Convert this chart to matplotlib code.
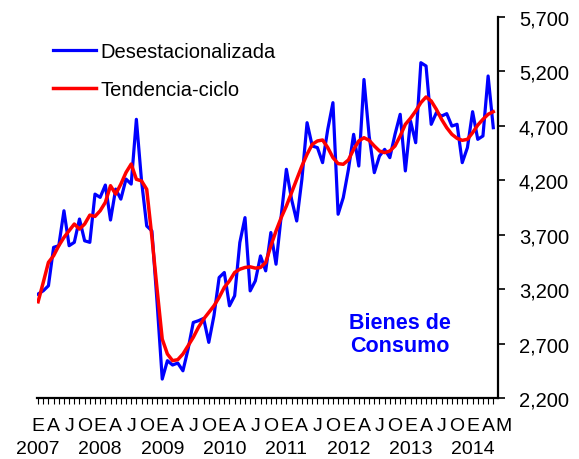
import matplotlib
matplotlib.use("Agg")
import matplotlib.pyplot as plt
import matplotlib.transforms as mtransforms
from matplotlib.ticker import FuncFormatter

plt.rcParams['font.family'] = ['Liberation Sans', 'DejaVu Sans']

# Data: monthly, Jan 2007 - May 2014
desestacionalizada = [
    3155, 3185, 3231, 3584, 3599, 3920, 3599, 3630, 3844, 3644, 3630, 4073,
    4043, 4156, 3835, 4119, 4027, 4211, 4165, 4760, 4194, 3780, 3735, 3080,
    2374, 2543, 2503, 2521, 2450, 2650, 2894, 2910, 2931, 2711, 2956, 3307,
    3353, 3047, 3139, 3628, 3857, 3184, 3276, 3505, 3368, 3720, 3429, 3872,
    4301, 4026, 3826, 4209, 4729, 4515, 4500, 4362, 4668, 4913, 3888, 4041,
    4301, 4622, 4331, 5126, 4607, 4270, 4423, 4484, 4408, 4622, 4806, 4286,
    4744, 4545, 5280, 5250, 4714, 4821, 4790, 4812, 4698, 4714, 4362, 4500,
    4830, 4576, 4607, 5158, 4683,
]
tendencia_ciclo = [
    3084, 3262, 3446, 3507, 3599, 3675, 3737, 3798, 3752, 3798, 3880, 3868,
    3920, 3997, 4150, 4073, 4165, 4272, 4349, 4209, 4194, 4117, 3680, 3200,
    2741, 2604, 2543, 2552, 2604, 2680, 2757, 2849, 2925, 2986, 3047, 3124,
    3216, 3276, 3353, 3383, 3399, 3405, 3393, 3399, 3445, 3597, 3735, 3857,
    3964, 4086, 4209, 4331, 4439, 4530, 4561, 4570, 4500, 4408, 4353, 4347,
    4387, 4484, 4561, 4591, 4567, 4515, 4469, 4454, 4469, 4515, 4607, 4714,
    4770, 4836, 4913, 4965, 4928, 4851, 4760, 4683, 4622, 4585, 4567, 4576,
    4637, 4707, 4760, 4806, 4830,
]
month_letters = ['E', 'A', 'J', 'O'] * 7 + ['E', 'A', 'M']
years = ['2007', '2008', '2009', '2010', '2011', '2012', '2013', '2014']
y_ticks = [2200, 2700, 3200, 3700, 4200, 4700, 5200, 5700]

months = list(range(len(desestacionalizada)))

fig = plt.figure(figsize=(5.79, 4.60), dpi=100)
ax = fig.add_axes([0.064, 0.1326, 0.796, 0.8283])

ax.plot(months, desestacionalizada, color='#0000FF', lw=2.3, label='Desestacionalizada')
ax.plot(months, tendencia_ciclo, color='#FF0000', lw=2.5, label='Tendencia-ciclo')

ax.set_xlim(-0.2, 88.9)
ax.set_ylim(2200, 5700)

# spines
for s in ['top', 'left']:
    ax.spines[s].set_visible(False)
ax.spines['right'].set_linewidth(1.6)
ax.spines['bottom'].set_linewidth(1.6)

# y axis on the right
ax.yaxis.tick_right()
ax.set_yticks(y_ticks)
ax.yaxis.set_major_formatter(FuncFormatter(lambda v, p: f'{int(v):,}'))
ax.tick_params(axis='y', direction='out', length=5, width=1.2, labelsize=14.5, pad=10)

# x axis: monthly tick marks, labels drawn as text
ax.set_xticks(range(0, 89))
ax.set_xticklabels([])
ax.tick_params(axis='x', direction='out', length=4, width=0.8)

trans = mtransforms.blended_transform_factory(ax.transData, ax.transAxes)
for i, lab in enumerate(month_letters):
    ax.text(i * 3, -0.072, lab, transform=trans, ha='center', va='center',
            fontsize=14, clip_on=False)
for i, yr in enumerate(years):
    ax.text(i * 12, -0.132, yr, transform=trans, ha='center', va='center',
            fontsize=14, clip_on=False)

ax.text(70, 2790, 'Bienes de\nConsumo', color='#0000FF', fontsize=15.5,
        fontweight='bold', ha='center', va='center', linespacing=1.15)

ax.legend(loc='upper left', bbox_to_anchor=(0.078, 0.925), bbox_transform=fig.transFigure,
          frameon=False, fontsize=14.5, handlelength=2.1, handletextpad=0.25,
          labelspacing=0.95, borderaxespad=0)

fig.savefig('out.png', dpi=100)
